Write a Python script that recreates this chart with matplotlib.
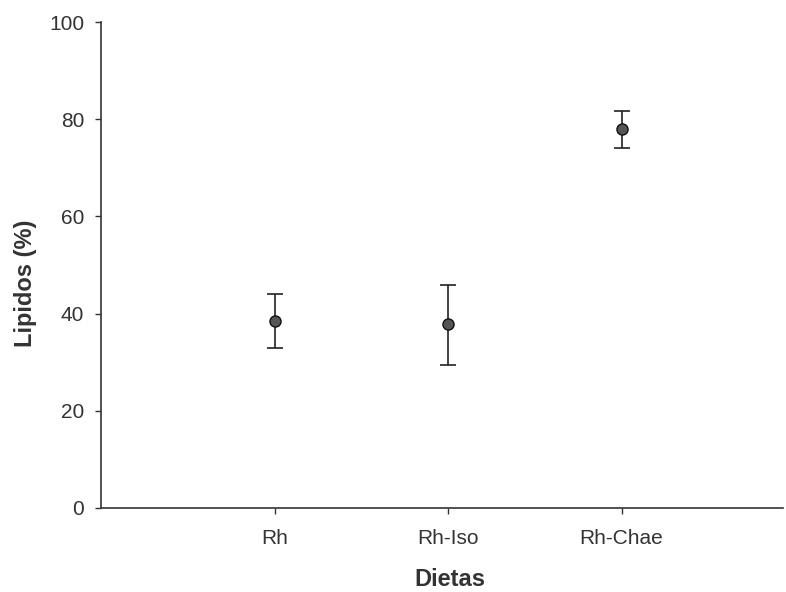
import matplotlib
matplotlib.use('Agg')
import matplotlib.pyplot as plt

dietas = ['Rh', 'Rh-Iso', 'Rh-Chae']
lipidos = [38.5, 37.9, 78.0]
err_low = [33.0, 29.5, 74.1]
err_high = [44.0, 45.9, 81.7]

plt.rcParams['font.family'] = ['Liberation Sans', 'DejaVu Sans']

x = [1, 2, 3]
yerr = [[m - lo for m, lo in zip(lipidos, err_low)],
        [hi - m for m, hi in zip(lipidos, err_high)]]

fig = plt.figure(figsize=(7.86, 5.92), dpi=100)
ax = fig.add_axes([0.1285, 0.1419, 0.8675, 0.8209])

ax.errorbar(x, lipidos, yerr=yerr, fmt='o', color='#222222', ecolor='#222222',
            elinewidth=1.2, capsize=6, capthick=1.2,
            markerfacecolor='#555555', markeredgecolor='#111111', markersize=8)

ax.set_xlim(0, 3.93)
ax.set_ylim(0, 100)
ax.set_xticks(x)
ax.set_xticklabels(dietas)
ax.set_yticks([0, 20, 40, 60, 80, 100])
ax.spines['top'].set_visible(False)
ax.spines['right'].set_visible(False)
for s in ['left', 'bottom']:
    ax.spines[s].set_color('#333333')
    ax.spines[s].set_linewidth(1.2)
ax.tick_params(direction='out', length=4, width=1, colors='#333333',
               labelsize=15, labelcolor='#333333')
ax.tick_params(axis='y', pad=8)
ax.tick_params(axis='x', pad=11)
ax.set_xlabel('Dietas', fontsize=17, fontweight='bold', color='#333333')
ax.set_ylabel('Lipidos (%)', fontsize=17, fontweight='bold', color='#333333')
# label positions from the reference (axes fraction)
ax.xaxis.set_label_coords(0.512, -0.123)
ax.yaxis.set_label_coords(-0.094, 0.463)

fig.savefig('out.png', dpi=100)
